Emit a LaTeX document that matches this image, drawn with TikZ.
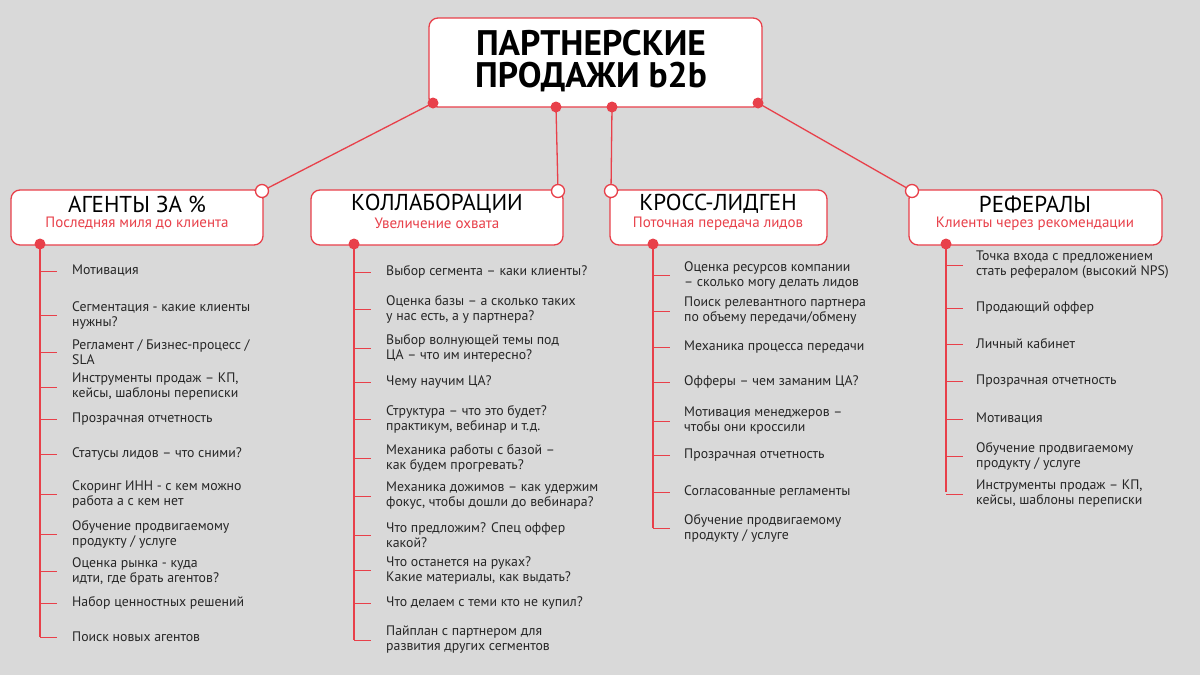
\documentclass[tikz,border=0pt]{standalone}
\usepackage{fontspec}
\setmainfont{PT Sans}
\begin{document}
\begin{tikzpicture}[x=1pt,y=-1pt,
  red0/.style={draw=rd,line width=1.3pt},
  box/.style={red0,fill=white,rounded corners=9pt},
  fdot/.style={circle,fill=rd,inner sep=0,minimum size=11pt},
  odot/.style={circle,draw=rd,line width=1.3pt,fill=white,inner sep=0,minimum size=13pt},
  itm/.style={anchor=west,align=left,font=\fontsize{13.8}{15}\selectfont,inner sep=0,text=black!85}]
\definecolor{rd}{HTML}{E8404A}
\fill[fill={rgb,255:red,217;green,217;blue,217}] (0,0) rectangle (1200,675);
\useasboundingbox (0,0) rectangle (1200,675);
% main
\draw[box] (429,18) rectangle (762,107);
\node[align=center,font=\bfseries\fontsize{35.5}{32}\selectfont] (main) at (591,61) {ПАРТНЕРСКИЕ\\ПРОДАЖИ b2b};
% category boxes
\draw[box] (11,190) rectangle (263,245);
\draw[box] (311,190) rectangle (563,245);
\draw[box] (610,190) rectangle (827,245);
\draw[box] (909,190) rectangle (1162,245);
\foreach \n/\cx/\t/\s in {a/137/АГЕНТЫ ЗА \%/Последняя миля до клиента, b/437/КОЛЛАБОРАЦИИ/Увеличение охвата, c/718/КРОСС-ЛИДГЕН/Поточная передача лидов, d/1035/РЕФЕРАЛЫ/Клиенты через рекомендации}{
  \node[font=\fontsize{23}{23}\selectfont,inner sep=0] (t\n) at (\cx,204) {\t};
  \node[font=\fontsize{15}{15}\selectfont,text=rd,inner sep=0] (s\n) at (\cx,223.5) {\s};
}
% connectors from main
\coordinate (m1) at (433,103); \coordinate (m2) at (556,107);
\coordinate (m3) at (612,107); \coordinate (m4) at (758,103);
\coordinate (o1) at (262,191); \coordinate (o2) at (558,191);
\coordinate (o3) at (611,191); \coordinate (o4) at (912,191);
\foreach \i in {1,2,3,4}{\draw[rd,line width=1.3pt] (m\i) -- (o\i);
  \node[fdot] at (m\i) {}; \node[odot] at (o\i) {};}
% columns
\newcommand\col[4]{% x, text x, end y, list
  \draw[rd,line width=1.3pt] (#1,244) -- (#1,#3);
  \foreach \yy/\tt in {#4}{\draw[rd,line width=1pt] (#1,\yy) -- (#1+17,\yy);
    \node[itm] at (#2,\yy) {\tt};}
  \node[fdot] at (#1,244) {};}
\col{40}{72}{637}{271/Мотивация, 315/{Сегментация - какие клиенты\\нужны?}, 352/{Регламент / Бизнес-процесс /\\SLA}, 387/{Инструменты продаж – КП,\\кейсы, шаблоны переписки}, 419/Прозрачная отчетность, 454/{Статусы лидов – что сними?}, 494/{Скоринг ИНН - с кем можно\\работа а с кем нет}, 534/{Обучение продвигаемому\\продукту / услуге}, 571/{Оценка рынка - куда\\идти, где брать агентов?}, 603/Набор ценностных решений, 637/Поиск новых агентов}
\col{354}{386}{640}{272/{Выбор сегмента – каки клиенты?}, 309/{Оценка базы – а сколько таких\\у нас есть, а у партнера?}, 348/{Выбор волнующей темы под\\ЦА – что им интересно?}, 382/{Чему научим ЦА?}, 419/{Структура – что это будет?\\практикум, вебинар  и т.д.}, 458/{Механика работы с базой –\\как будем прогревать?}, 496/{Механика дожимов – как удержим\\фокус, чтобы дошли до вебинара?}, 535/{Что предложим? Спец оффер\\какой?}, 570/{Что останется на руках?\\Какие материалы, как выдать?}, 603/{Что делаем с теми кто не купил?}, 640/{Пайплан с партнером для\\развития других сегментов}}
\col{653}{684}{528}{275/{Оценка  ресурсов компании\\– сколько могу делать лидов}, 311/{Поиск релевантного партнера\\по объему передачи/обмену}, 347/Механика процесса передачи, 382/{Офферы – чем заманим ЦА?}, 421/{Мотивация менеджеров –\\чтобы они кроссили}, 455/Прозрачная отчетность, 492/Согласованные регламенты, 528/{Обучение продвигаемому\\продукту / услуге}}
\col{946}{976}{492}{265/{Точка входа с предложением\\стать рефералом (высокий NPS)}, 308/Продающий оффер, 344/Личный кабинет, 381/Прозрачная отчетность, 419/Мотивация, 456/{Обучение продвигаемому\\продукту / услуге}, 494/{Инструменты продаж – КП,\\кейсы, шаблоны переписки}}
\end{tikzpicture}
\end{document}
